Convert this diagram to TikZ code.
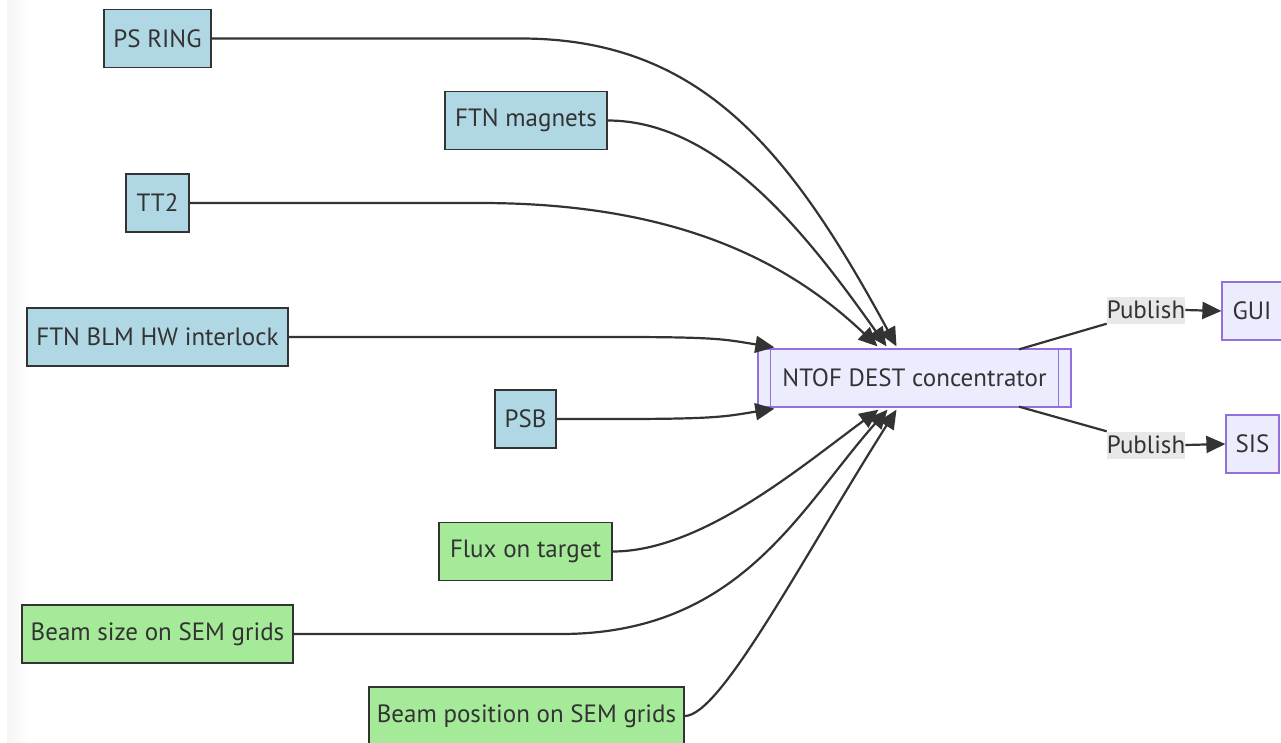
\documentclass[tikz,border=0pt]{standalone}
\usepackage{fontspec}
\setmainfont{PT Sans}
\usetikzlibrary{arrows.meta,calc}

\definecolor{ink}{HTML}{333333}
\definecolor{srcblue}{HTML}{B0D7E4}
\definecolor{srcgreen}{HTML}{A4EA99}
\definecolor{hubfill}{HTML}{ECECFF}
\definecolor{hubline}{HTML}{9370DB}
\definecolor{lblfill}{HTML}{E8E8E8}

\tikzset{
  base/.style={rectangle, minimum height=58pt, inner sep=0pt, text=ink,
    font=\fontsize{25}{29}\selectfont},
  bluebox/.style={base, fill=srcblue, draw=ink, line width=1.3pt},
  greenbox/.style={base, fill=srcgreen, draw=ink, line width=1.3pt},
  hubbox/.style={base, fill=hubfill, draw=hubline, line width=1.3pt},
  pubtag/.style={rectangle, fill=lblfill, inner sep=0pt, minimum width=76pt,
    minimum height=27pt, text=ink, font=\fontsize{25}{29}\selectfont},
  link/.style={draw=ink, line width=2.2pt},
  flow/.style={link, -{Triangle[length=19pt,width=17pt]}},
}

\begin{document}
\begin{tikzpicture}[x=1pt,y=-1pt]
\useasboundingbox (0,0) rectangle (1281,742);
\fill[white] (0,0) rectangle (1281,742);
% faint shaded strip along the left edge
\shade[left color=black!4, right color=white] (7,0) rectangle (30,742);

% source systems
\node[bluebox, minimum width=107pt] (ps)   at (157.5,38.5) {PS RING};
\node[bluebox, minimum width=162pt] (fm)   at (526,120.5)  {FTN magnets};
\node[bluebox, minimum width=63pt]  (tt)   at (157.5,203)  {TT2};
\node[bluebox, minimum width=261pt] (blm)  at (157.5,337)  {FTN BLM HW interlock};
\node[bluebox, minimum width=61pt]  (psb)  at (525.5,419)  {PSB};
\node[greenbox, minimum width=173pt] (flux) at (525.5,551.5) {Flux on target};
\node[greenbox, minimum width=271pt] (bsz)  at (157.5,634)  {Beam size on SEM grids};
\node[greenbox, minimum width=315pt] (bpos) at (526.5,716)  {Beam position on SEM grids};

% concentrator (subroutine box)
\node[hubbox, minimum width=313pt] (conc) at (914.5,378) {NTOF DEST concentrator};
\draw[hubline, line width=1.3pt] ([xshift=13pt]conc.north west) -- ([xshift=13pt]conc.south west);
\draw[hubline, line width=1.3pt] ([xshift=-13pt]conc.north east) -- ([xshift=-13pt]conc.south east);

% consumers
\node[hubbox, minimum width=60pt] (gui) at (1252,311) {GUI};
\node[hubbox, minimum width=53pt] (sis) at (1252.5,444) {SIS};

% arrival points on the concentrator
\coordinate (tTT)   at ([xshift=-37pt,yshift=2pt]conc.north);
\coordinate (tFM)   at ([xshift=-28pt,yshift=2pt]conc.north);
\coordinate (tPS)   at ([xshift=-18pt,yshift=2pt]conc.north);
\coordinate (tBLM)  at ([xshift=17pt,yshift=1pt]conc.north west);
\coordinate (tPSB)  at ([xshift=17pt,yshift=-1pt]conc.south west);
\coordinate (tFL)   at ([xshift=-36pt,yshift=-2pt]conc.south);
\coordinate (tBS)   at ([xshift=-27pt,yshift=-2pt]conc.south);
\coordinate (tBP)   at ([xshift=-18pt,yshift=-2pt]conc.south);

% incoming links
\draw[flow] (ps.east) -- ++(309,0) .. controls +(180,0) and +(-107,-197) .. (tPS);
\draw[flow] (fm.east) .. controls +(113,0) and +(-76,-107) .. (tFM);
\draw[flow] (tt.east) -- ++(291,0) .. controls +(200,0) and +(-86,-82) .. (tTT);
\draw[flow] (blm.east) -- ++(330,0) .. controls +(100,0) and +(-50,-8) .. (tBLM);
\draw[flow] (psb.east) -- ++(60,0) .. controls +(100,0) and +(-50,8) .. (tPSB);
\draw[flow] (flux.east) .. controls +(88,0) and +(-80,59) .. (tFL);
\draw[flow] (bsz.east) -- ++(267,0) .. controls +(180,0) and +(-88,99) .. (tBS);
\draw[flow] (bpos.east) .. controls +(36,0) and +(-95,150) .. (tBP);

% publishing links
\node[pubtag] (pub1) at (1146,310) {Publish};
\node[pubtag] (pub2) at (1146,445) {Publish};
\draw[link] ([xshift=104.5pt,yshift=-1pt]conc.north) -- (pub1.south west);
\draw[link] ([xshift=104.5pt,yshift=1pt]conc.south) -- (pub2.north west);
\draw[flow] (pub1.east) -- (gui.west);
\draw[flow] (pub2.east) -- (sis.west);
\end{tikzpicture}
\end{document}
